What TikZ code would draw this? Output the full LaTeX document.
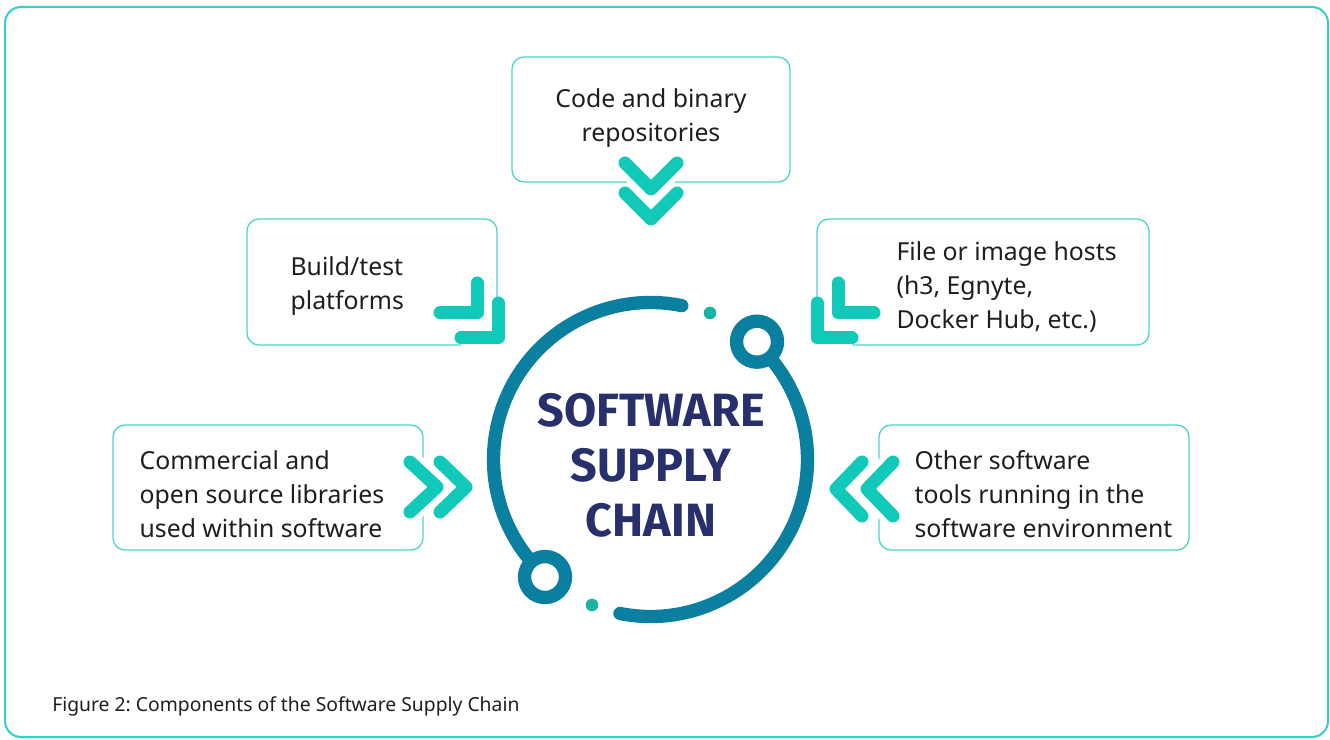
\documentclass[tikz,border=0pt]{standalone}
\usepackage{fontspec}
\setmainfont{Noto Sans}
\newfontfamily\bannerfont{Fira Sans}
\usetikzlibrary{positioning}
\frenchspacing

\definecolor{ringcol}{HTML}{0B7F9F}
\definecolor{dotcol}{HTML}{17B3A6}
\definecolor{chevcol}{HTML}{10C9B9}
\definecolor{boxcol}{HTML}{4DD6C8}
\definecolor{framecol}{HTML}{33D1C2}
\definecolor{inkcol}{HTML}{1E1E1E}
\definecolor{titlecol}{HTML}{27306A}

\begin{document}
\begin{tikzpicture}[x=0.75pt,y=0.75pt,
	every node/.style={text=inkcol, inner sep=0pt},
	box/.style={draw=boxcol, line width=1pt, rounded corners=9pt},
	boxtext/.style={font=\fontsize{18.6}{25.5}\selectfont, align=left, anchor=west},
	chev/.style={draw=chevcol, line width=9.75pt, line cap=round, line join=round,
		preaction={draw=white, line width=18pt}},
	ring/.style={draw=ringcol, line width=10pt, line cap=round}]
	\useasboundingbox (0,0) rectangle (1330,739);
	\draw[framecol, line width=1.5pt, rounded corners=12pt] (5,2) rectangle (1328,732);

	% boxes
	\node[box, minimum width=208.5pt, minimum height=93.75pt] (repo) at (651,619.5) {};
	\node[box, minimum width=187.5pt, minimum height=94.5pt] (build) at (372,457) {};
	\node[box, minimum width=249pt, minimum height=94.5pt] (hosts) at (983,457) {};
	\node[box, minimum width=232.5pt, minimum height=93.75pt] (libs) at (268,251.5) {};
	\node[box, minimum width=232.5pt, minimum height=93.75pt] (tools) at (1034,251.5) {};

	\node[boxtext, align=center, anchor=center] (repotxt) at ([yshift=1.2pt]repo.center) {Code and binary\\repositories};
	\node[boxtext] (buildtxt) at ([xshift=33pt,yshift=-3pt]build.west) {Build/test\\platforms};
	\node[boxtext] (hoststxt) at ([xshift=60pt,yshift=-4pt]hosts.west) {File or image hosts\\(h3, Egnyte,\\Docker Hub, etc.)};
	\node[boxtext] (libstxt) at ([xshift=20.25pt,yshift=-5pt]libs.west) {Commercial and\\open source libraries\\used within software};
	\node[boxtext] (toolstxt) at ([xshift=27pt,yshift=-5pt]tools.west) {Other software\\tools running in the\\software environment};

	% chevrons
	\draw[chev] (625,576)--(651,550)--(677,576);
	\draw[chev] (625,546)--(651,520)--(677,546);
	\draw[chev] (477,456)--(477,426)--(440,426);
	\draw[chev] (498,436)--(498,401)--(461,401);
	\draw[chev] (838,456)--(838,426)--(874,426);
	\draw[chev] (817,436)--(817,401)--(852,401);
	\draw[chev] (410,277)--(437,252)--(410,227);
	\draw[chev] (440,277)--(466,252)--(440,227);
	\draw[chev] (862,277)--(836,250)--(862,223);
	\draw[chev] (893,277)--(867,250)--(893,223);

	% ring
	\coordinate (hub) at (650.5,279.5);
	\draw[ring] ([shift={(78.5:157)}]hub) arc[start angle=78.5, end angle=228, radius=157];
	\draw[ring] ([shift={(258.8:157)}]hub) arc[start angle=258.8, end angle=407, radius=157];
	\draw[ring, fill=white] (757,397.3) circle (20.5);
	\draw[ring, fill=white] (545,162) circle (20.5);
	\fill[dotcol] (710,426) circle (6.3);
	\fill[dotcol] (592,134) circle (6.3);

	\node[font=\bannerfont\bfseries\fontsize{35}{41.25}\selectfont, text=titlecol, align=center] (title) at (651,274) {SOFTWARE\\SUPPLY\\CHAIN};

	\node[font=\fontsize{14.5}{17}\selectfont, anchor=west] (caption) at (52,33) {Figure 2: Components of the Software Supply Chain};
\end{tikzpicture}
\end{document}
